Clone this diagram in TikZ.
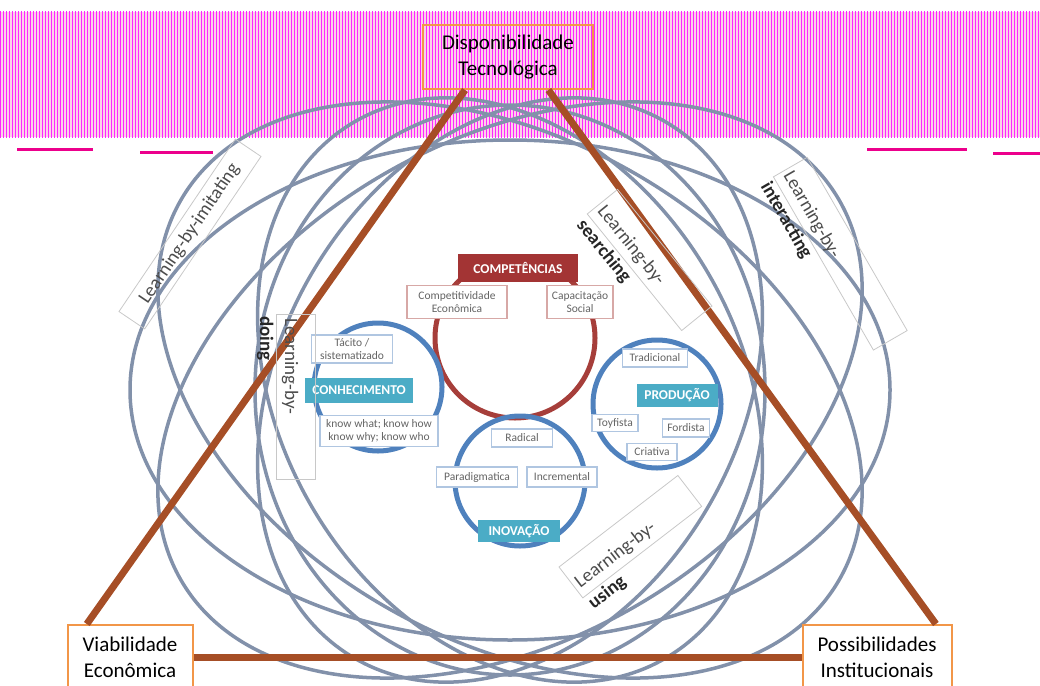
\documentclass[tikz,border=0pt]{standalone}
\usepackage{fontspec}
\setmainfont{Carlito}
\usetikzlibrary{positioning, patterns, calc}

\definecolor{tribrown}{RGB}{166,78,38}
\definecolor{orbitgray}{RGB}{130,145,170}
\definecolor{boxorange}{RGB}{242,150,72}
\definecolor{ringblue}{RGB}{79,129,189}
\definecolor{ringred}{RGB}{166,62,58}
\definecolor{labteal}{RGB}{75,172,198}
\definecolor{labred}{RGB}{163,52,52}
\definecolor{linegray}{RGB}{200,200,200}
\definecolor{smalltext}{RGB}{100,100,100}

\begin{document}
\begin{tikzpicture}[x=1pt, y=-1pt,
		canto/.style={draw=boxorange, line width=2pt, align=center, inner sep=3pt,
			minimum height=64pt, font=\fontsize{21}{26}\selectfont, text=black},
		orbitline/.style={draw=orbitgray, line width=3.5pt},
		ringline/.style={circle, draw=ringblue, line width=5pt, inner sep=0pt},
		tagbox/.style={fill=labteal, text=white, inner sep=2pt,
			font=\fontsize{13.5}{15}\selectfont\bfseries},
		itembox/.style={draw=ringblue!45, line width=1.2pt, fill=white, text=smalltext,
			align=center, inner sep=1.5pt, font=\fontsize{11.5}{13}\selectfont},
		lbox/.style={draw=linegray, line width=0.8pt, align=left, inner sep=4pt,
			text height=26pt, text depth=5pt, text=black!70, font=\fontsize{19}{22}\selectfont},
		lword/.style={inner sep=2pt, text=black!85, font=\fontsize{19}{22}\selectfont\bfseries},
		triline/.style={draw=tribrown, line width=7pt}]
	\useasboundingbox (0,0) rectangle (1040,685);

	% faixa magenta do topo
	\fill[magenta!18] (0,12) rectangle (1040,137);
	\fill[pattern=vertical lines, pattern color=magenta!85] (0,12) rectangle (1040,137);
	\draw[magenta, line width=3pt] (17,149) -- (93,149) (140,152) -- (213,152)
		(867,149) -- (967,149) (993,153) -- (1040,153);

	% orbitas
	\coordinate (c) at (510,390);
	\draw[orbitline] (c) ellipse [x radius=380, y radius=250];
	\draw[orbitline, rotate around={30:(c)}] (c) ellipse [x radius=380, y radius=250];
	\draw[orbitline, rotate around={-30:(c)}] (c) ellipse [x radius=380, y radius=250];
	\draw[orbitline, rotate around={60:(c)}] (c) ellipse [x radius=310, y radius=230];
	\draw[orbitline, rotate around={-60:(c)}] (c) ellipse [x radius=310, y radius=230];
	\draw[orbitline] (c) ellipse [x radius=255, y radius=285];

	% triangulo
	\node (dt) [canto, minimum width=170pt] at (508,57) {Disponibilidade\\Tecnológica};
	\node (ve) [canto, fill=white, minimum width=125pt] at (130,657) {Viabilidade\\Econômica};
	\node (pi) [canto, fill=white, minimum width=149pt] at (877,657) {Possibilidades\\Institucionais};
	\coordinate (dtl) at ($(dt.south west)!0.25!(dt.south east)$);
	\coordinate (dtr) at ($(dt.south west)!0.735!(dt.south east)$);
	\coordinate (vet) at ($(ve.north west)!0.16!(ve.north east)$);
	\coordinate (pit) at ($(pi.north west)!0.89!(pi.north east)$);
	\draw[triline] (dtl) -- (vet);
	\draw[triline] (dtr) -- (pit);
	\draw[triline] (ve.east) -- (pi.west);

	% competencias
	\node (rcomp) [ringline, draw=ringred, minimum size=160pt] at (515,338) {};
	\node (tcomp) [tagbox, fill=labred, minimum width=120pt, minimum height=28pt] at (518,268) {COMPETÊNCIAS};
	\node (ce) [itembox, draw=ringred!45, minimum width=100pt, minimum height=33pt] at (457,302) {Competitividade\\Econômica};
	\node (cs) [itembox, draw=ringred!45, minimum width=66pt, minimum height=33pt] at (580,302) {Capacitação\\Social};

	% conhecimento
	\node (rconh) [ringline, minimum size=128pt] at (378,387) {};
	\node (tconh) [tagbox, minimum width=108pt, minimum height=25pt] at (359,390) {CONHECIMENTO};
	\node (ts) [itembox, minimum width=81pt, minimum height=28pt] at (352,349) {Tácito /\\sistematizado};
	\node (kw) [itembox, minimum width=118pt, minimum height=31pt] at (379,431) {know what; know how\\know why; know who};

	% producao
	\node (rprod) [ringline, minimum size=128pt] at (657,404) {};
	\node (tprod) [tagbox, minimum width=81pt, minimum height=23pt] at (677,395) {PRODUÇÃO};
	\node (tr) [itembox, minimum width=65pt, minimum height=18pt] at (655,358) {Tradicional};
	\node (to) [itembox, minimum width=46pt, minimum height=17pt] at (615,423) {Toyfista};
	\node (fo) [itembox, minimum width=47pt, minimum height=18pt] at (686,428) {Fordista};
	\node (cr) [itembox, minimum width=50pt, minimum height=17pt] at (652,452) {Criativa};

	% inovacao
	\node (rinov) [ringline, minimum size=130pt] at (520,481) {};
	\node (ra) [itembox, minimum width=61pt, minimum height=18pt] at (522,438) {Radical};
	\node (pa) [itembox, minimum width=81pt, minimum height=20pt] at (477,477) {Paradigmatica};
	\node (in) [itembox, minimum width=70pt, minimum height=20pt] at (562,477) {Incremental};
	\node (tinov) [tagbox, minimum width=82pt, minimum height=22pt] at (519,531) {INOVAÇÃO};

	% learning-by
	\node (limit) [lbox, align=center, text width=196pt, text height=14pt, inner sep=6pt,
		rotate=56] at (190,234) {Learning-by-imitating};
	\node (ldoing) [lbox, text width=157pt, rotate=-90, anchor=base west] at (285,314) {Learning-by-};
	\node (wdoing) [lword, rotate=-90, anchor=north west] at (ldoing.south west) {doing};
	\node (lsearch) [lbox, text width=142pt, rotate=-51, anchor=base west] at (594,208) {Learning-by-};
	\node (wsearch) [lword, rotate=-51, anchor=north west] at (lsearch.south west) {searching};
	\node (linter) [lbox, text width=192pt, rotate=-60, anchor=base west] at (781,172) {Learning-by-};
	\node (winter) [lword, rotate=-60, anchor=north west] at (linter.south west) {interacting};
	\node (lusing) [lbox, text width=142pt, rotate=37.6, anchor=base west] at (577,591) {Learning-by-};
	\node (wusing) [lword, rotate=37.6, anchor=north west] at (lusing.south west) {using};
\end{tikzpicture}
\end{document}
